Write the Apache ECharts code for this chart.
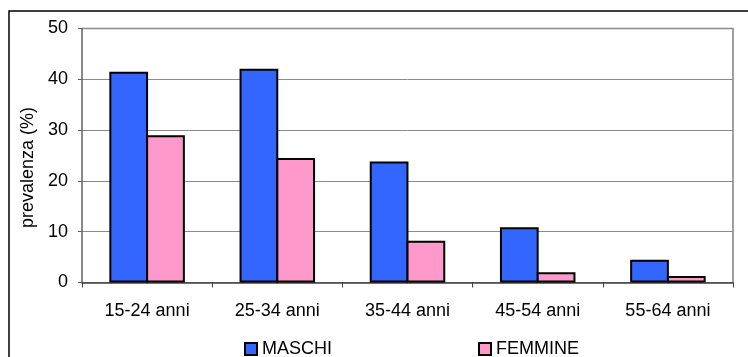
<!DOCTYPE html>
<html>
<head>
<meta charset="utf-8">
<script src="https://cdn.jsdelivr.net/npm/echarts@6/dist/echarts.min.js"></script>
<style>
  html, body { margin: 0; padding: 0; background: #fff; }
  #chart { width: 748px; height: 357px; }
</style>
</head>
<body>
<div id="chart"></div>
<script>
// Age classes and prevalence (%) by sex
const categories = ['15-24 anni', '25-34 anni', '35-44 anni', '45-54 anni', '55-64 anni'];
const maschi = [41.5, 42.1, 23.8, 10.9, 4.5];
const femmine = [29.0, 24.5, 8.2, 2.0, 1.3];
const yTicks = [0, 10, 20, 30, 40, 50];

const FONT = '"Liberation Sans", Arial, sans-serif';
const chart = echarts.init(document.getElementById('chart'), null, { renderer: 'canvas' });

chart.setOption({
  animation: false,
  backgroundColor: '#ffffff',
  textStyle: { fontFamily: FONT },
  graphic: [
    // outer chart frame
    {
      type: 'rect', z: -10,
      shape: { x: 9, y: 11, width: 760, height: 360 },
      style: { fill: '#ffffff', stroke: '#000000', lineWidth: 1.5 }
    },
    // plot area border (top and right)
    {
      type: 'polyline', z: 0,
      shape: { points: [[82, 28.5], [733, 28.5], [733, 282.5]] },
      style: { stroke: '#808080', lineWidth: 1.5, fill: null }
    },
    // y-axis title
    {
      type: 'text',
      x: 28, y: 167.5, rotation: Math.PI / 2,
      style: {
        text: 'prevalenza (%)', fontSize: 18, fontFamily: FONT,
        fill: '#000', align: 'center', verticalAlign: 'middle'
      }
    }
  ],
  legend: {
    data: ['MASCHI', 'FEMMINE'],
    left: 244, top: 340,
    padding: 0,
    icon: 'rect',
    itemWidth: 12, itemHeight: 12,
    itemGap: 146,
    textStyle: { fontSize: 18, color: '#000', fontFamily: FONT },
    itemStyle: { borderColor: '#000', borderWidth: 2 }
  },
  grid: { left: 82, right: 15, top: 28.5, bottom: 74.5, containLabel: false },
  xAxis: {
    type: 'category',
    data: categories,
    axisLine: { lineStyle: { color: '#404040', width: 1.5 } },
    axisTick: { show: true, inside: false, length: 5, alignWithLabel: false, lineStyle: { color: '#404040' } },
    axisLabel: { fontSize: 18, color: '#000', margin: 20, fontFamily: FONT },
    splitLine: { show: false }
  },
  yAxis: {
    type: 'value',
    min: yTicks[0], max: yTicks[yTicks.length - 1], interval: 10,
    axisLine: { show: true, lineStyle: { color: '#606060', width: 1.5 } },
    axisTick: { show: true, length: 4, lineStyle: { color: '#606060' } },
    axisLabel: { fontSize: 18, color: '#000', margin: 14, fontFamily: FONT },
    splitLine: { show: true, lineStyle: { color: '#8c8c8c', width: 1 } }
  },
  series: [
    {
      name: 'MASCHI', type: 'bar', data: maschi,
      barCategoryGap: '42%', barGap: '-5%',
      itemStyle: { color: '#3366ff', borderColor: '#000', borderWidth: 2 }
    },
    {
      name: 'FEMMINE', type: 'bar', data: femmine,
      barCategoryGap: '42%', barGap: '-5%',
      itemStyle: { color: '#ff99cc', borderColor: '#000', borderWidth: 2 }
    }
  ]
});
</script>
</body>
</html>
